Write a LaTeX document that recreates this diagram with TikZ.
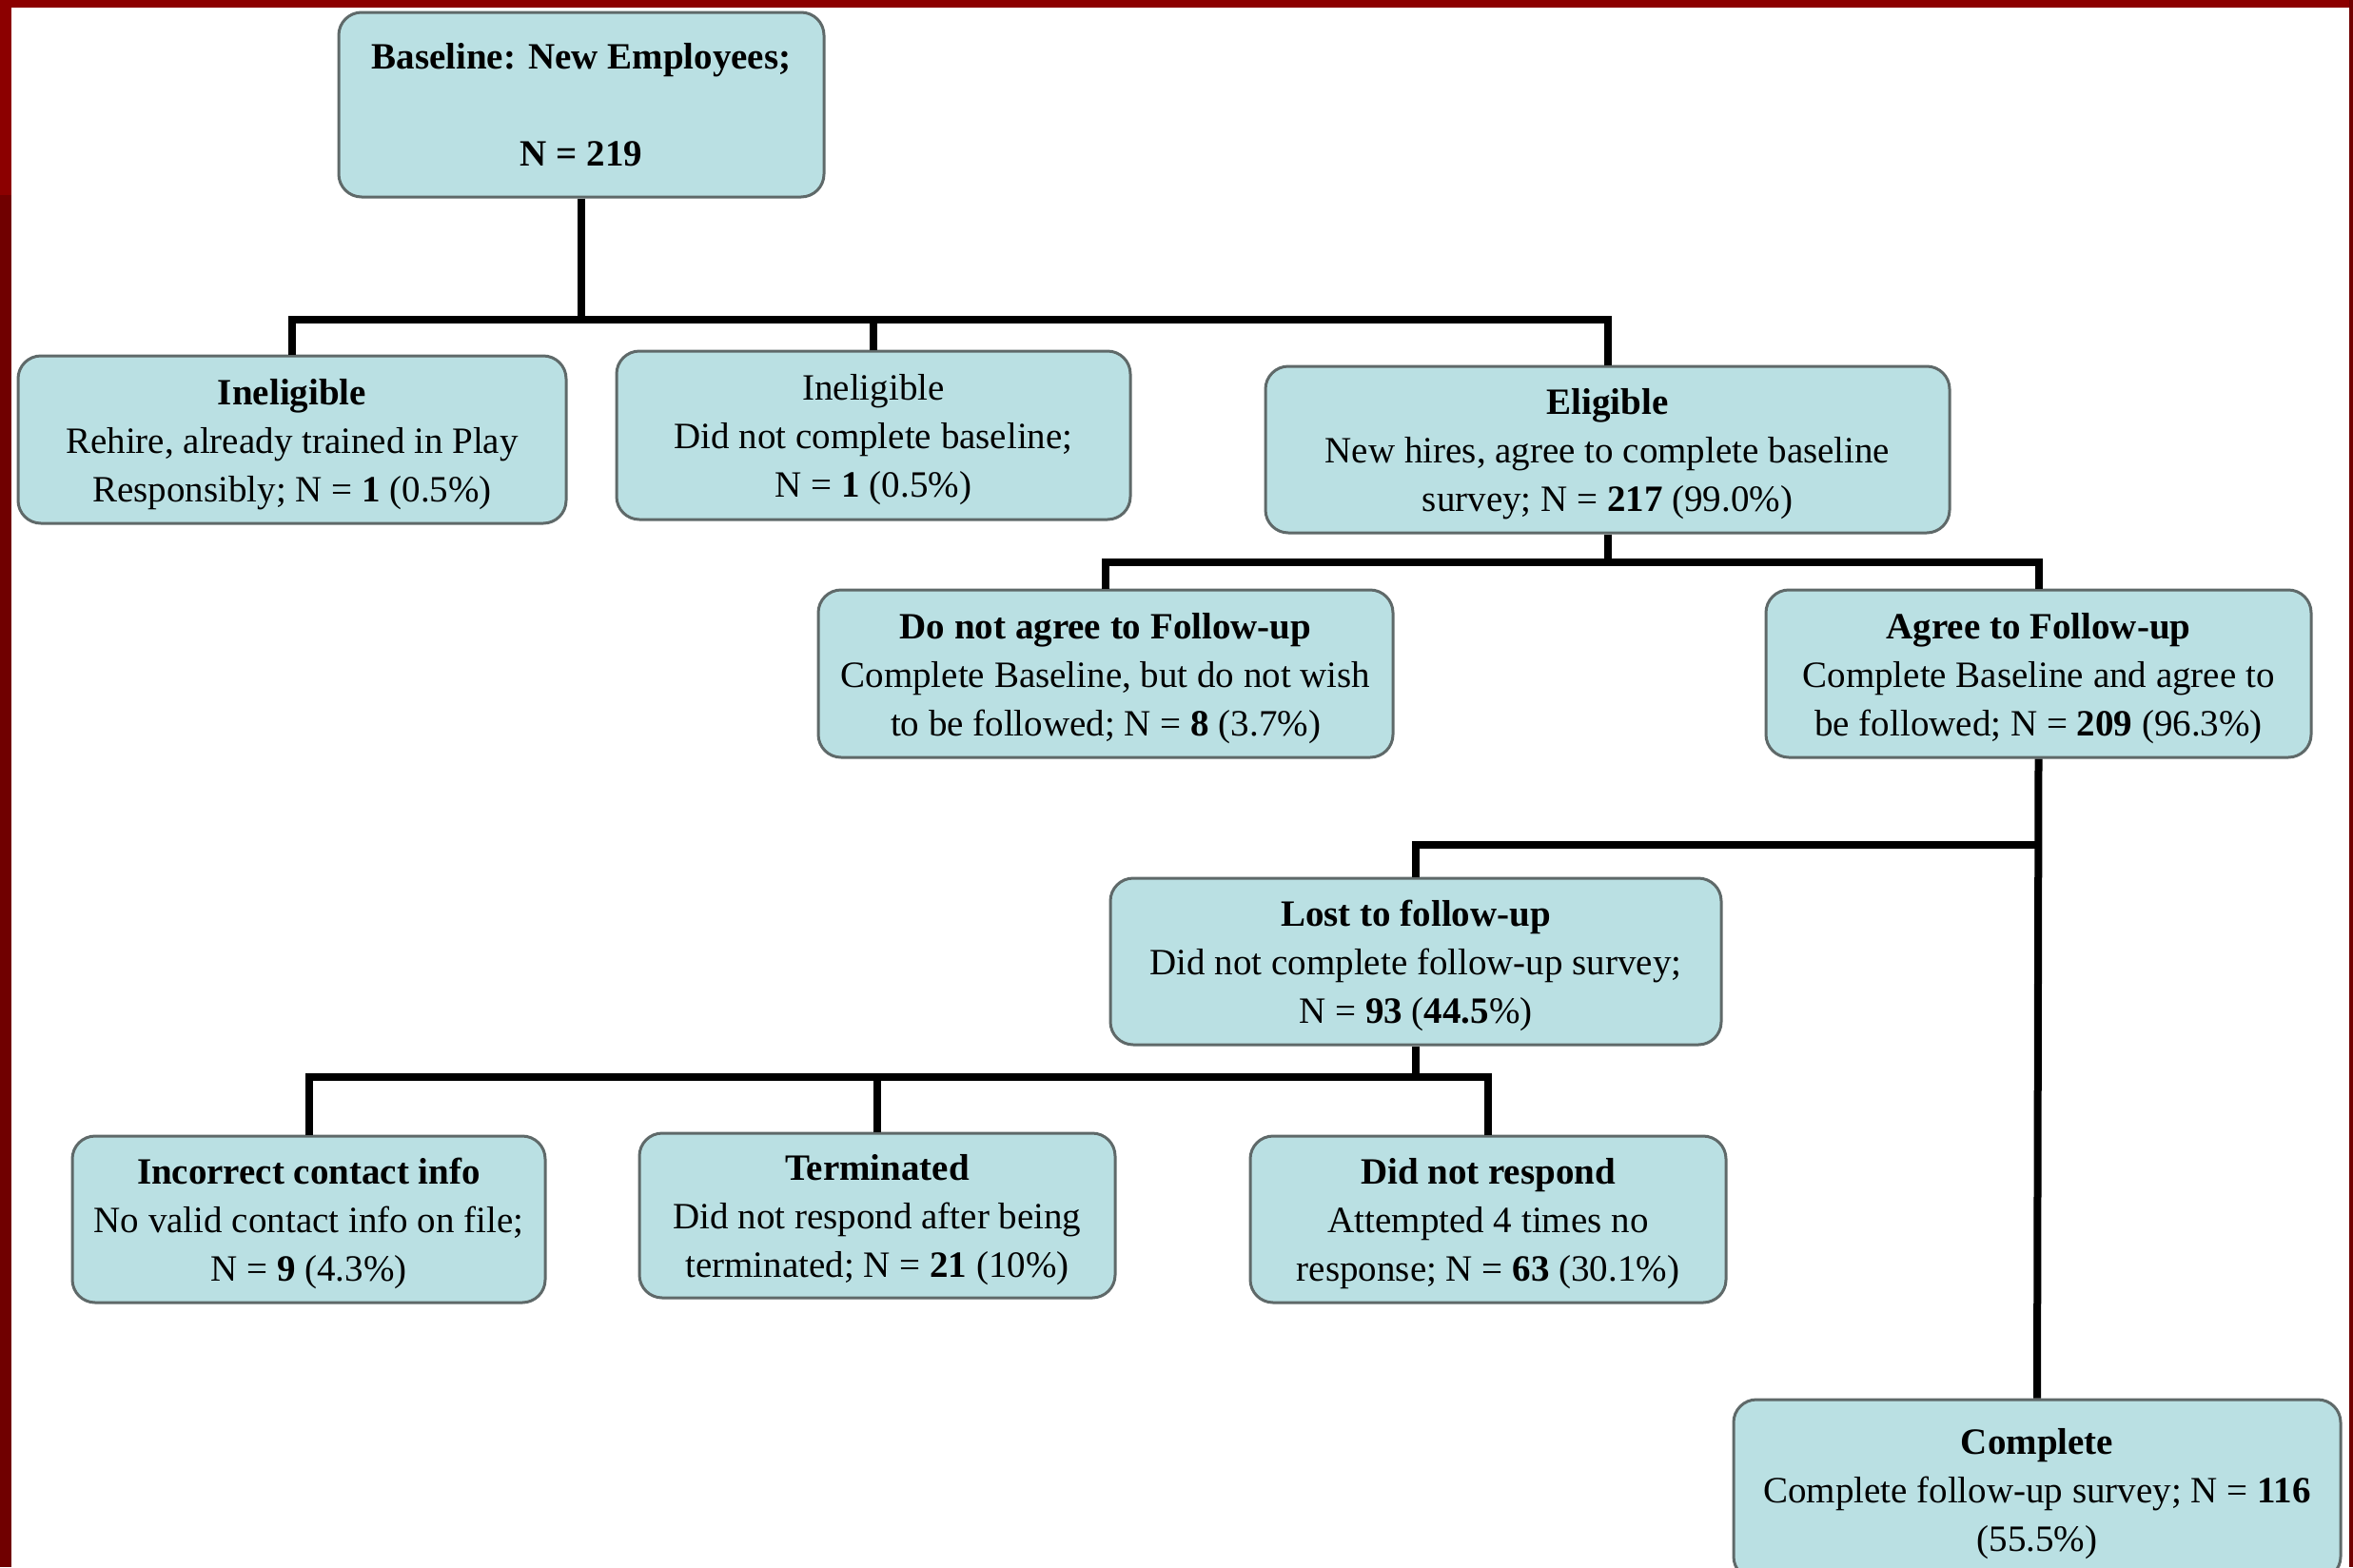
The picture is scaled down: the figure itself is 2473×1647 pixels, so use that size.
\documentclass[tikz,border=0pt]{standalone}
\usepackage{fontspec}
\setmainfont{Liberation Serif}
\definecolor{boxfill}{RGB}{186,224,227}
\definecolor{boxline}{RGB}{95,105,105}
\definecolor{frameA}{RGB}{140,0,0}
\definecolor{frameB}{RGB}{112,0,0}
\newcommand{\topstrut}{\rule{0pt}{37pt}}
\tikzset{
  flowbox/.style={draw=boxline, line width=3pt, fill=boxfill, rounded corners=24pt,
    align=center, inner sep=0pt, font=\fontsize{39}{51}\selectfont},
  link/.style={line width=8pt, draw=black, line join=miter}
}
\begin{document}
\begin{tikzpicture}[x=1pt,y=-1pt]
\useasboundingbox (0,0) rectangle (2473,1647);
\clip (0,0) rectangle (2473,1647);
\fill[white] (0,0) rectangle (2473,1647);
% frame
\fill[frameA] (0,0) rectangle (2473,8);
\fill[frameA] (0,0) rectangle (12,205);
\fill[frameB] (0,205) rectangle (12,1647);
\fill[frameB] (2469,0) rectangle (2473,1647);

% boxes
\node[flowbox, minimum width=510pt, minimum height=194pt] (base) at (611,110)
  {\textbf{Baseline: New Employees;}\\[51pt] \textbf{N = 219}};
\node[flowbox, minimum width=576pt, minimum height=176pt] (inel1) at (307,462)
  {\topstrut\textbf{Ineligible}\\ Rehire, already trained in Play\\ Responsibly; N = \textbf{1} (0.5\%)};
\node[flowbox, minimum width=540pt, minimum height=177pt] (inel2) at (918,457.5)
  {\topstrut Ineligible\\ Did not complete baseline;\\ N = \textbf{1} (0.5\%)};
\node[flowbox, minimum width=719pt, minimum height=175pt] (elig) at (1689.5,472.5)
  {\topstrut\textbf{Eligible}\\ New hires, agree to complete baseline\\ survey; N = \textbf{217} (99.0\%)};
\node[flowbox, minimum width=604pt, minimum height=176pt] (noagree) at (1162,708)
  {\topstrut\textbf{Do not agree to Follow-up}\\ Complete Baseline, but do not wish\\ to be followed; N = \textbf{8} (3.7\%)};
\node[flowbox, minimum width=573pt, minimum height=176pt] (agree) at (2142.5,708)
  {\topstrut\textbf{Agree to Follow-up}\\ Complete Baseline and agree to\\ be followed; N = \textbf{209} (96.3\%)};
\node[flowbox, minimum width=642pt, minimum height=175pt] (lost) at (1488,1010.5)
  {\topstrut\textbf{Lost to follow-up}\\ Did not complete follow-up survey;\\ N = \textbf{93} (\textbf{44.5}\%)};
\node[flowbox, minimum width=497pt, minimum height=175pt] (incorrect) at (324.5,1281.5)
  {\topstrut\textbf{Incorrect contact info}\\ No valid contact info on file;\\ N = \textbf{9} (4.3\%)};
\node[flowbox, minimum width=500pt, minimum height=173pt] (term) at (922,1277.5)
  {\topstrut\textbf{Terminated}\\ Did not respond after being\\ terminated; N = \textbf{21} (10\%)};
\node[flowbox, minimum width=500pt, minimum height=175pt] (norespond) at (1564,1281.5)
  {\topstrut\textbf{Did not respond}\\ Attempted 4 times no\\ response; N = \textbf{63} (30.1\%)};
\node[flowbox, minimum width=638pt, minimum height=189pt] (complete) at (2141,1565.5)
  {\topstrut\textbf{Complete}\\ Complete follow-up survey; N = \textbf{116}\\ (55.5\%)};

% junction coordinates
\coordinate (j1) at (611,336);
\coordinate (j2) at (1689.5,591);
\coordinate (j3) at (2142.5,888);
\coordinate (j4) at (1488,1132);

% connectors
\draw[link] (base.south) -- (j1);
\draw[link] (inel1.north) |- (elig.north |- j1) -- (elig.north);
\draw[link] (inel2.north) -- (inel2.north |- j1);

\draw[link] (elig.south) -- (j2);
\draw[link] (noagree.north) |- (agree.north |- j2) -- (agree.north);

\draw[link] (agree.south) -- (complete.north);
\draw[link] (j3) -| (lost.north);

\draw[link] (lost.south) -- (j4);
\draw[link] (incorrect.north) |- (norespond.north |- j4) -- (norespond.north);
\draw[link] (term.north) -- (term.north |- j4);
\end{tikzpicture}
\end{document}
